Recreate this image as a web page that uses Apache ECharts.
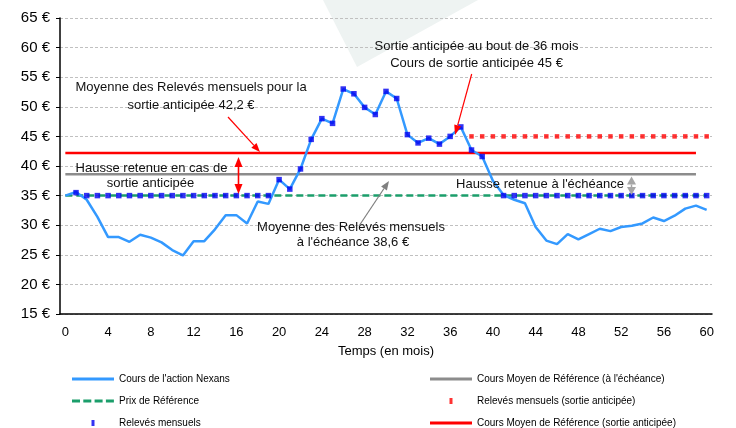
<!DOCTYPE html>
<html><head><meta charset="utf-8">
<script src="https://cdn.jsdelivr.net/npm/echarts@6/dist/echarts.min.js"></script>
<style>html,body{margin:0;padding:0;background:#fff}#c{width:736px;height:428px}</style>
</head><body><div id="c"></div>
<script>
// ---- data ----
const months = [...Array(61).keys()].map(String);
const yTicks = [15,20,25,30,35,40,45,50,55,60,65];
const coursNexans = [35.0,35.6,34.3,31.4,28.0,28.0,27.2,28.4,27.9,27.1,
  25.8,24.9,27.3,27.3,29.3,31.7,31.7,30.3,34.0,33.6,
  37.7,36.1,39.5,44.5,48.0,47.2,53.0,52.2,49.9,48.7,
  52.6,51.4,45.3,43.9,44.7,43.7,45.0,46.6,42.7,41.6,
  37.5,35.1,34.3,33.7,29.7,27.4,26.8,28.5,27.6,28.5,
  29.4,29.0,29.7,29.9,30.3,31.3,30.7,31.6,32.8,33.3,
  32.6];
const relevesMensuels = [null,35.5,35,35,35,35,35,35,35,35,
  35,35,35,35,35,35,35,35,35,35,
  37.7,36.1,39.5,44.5,48.0,47.2,53.0,52.2,49.9,48.7,
  52.6,51.4,45.3,43.9,44.7,43.7,45.0,46.6,42.7,41.6,
  null,35,35,35,35,35,35,35,35,35,
  35,35,35,35,35,35,35,35,35,35,
  35];
const relevesSortie = [null,null,null,null,null,null,null,null,null,null,
  null,null,null,null,null,null,null,null,null,null,
  null,null,null,null,null,null,null,null,null,null,
  null,null,null,null,null,null,null,null,45,45,
  45,45,45,45,45,45,45,45,45,45,
  45,45,45,45,45,45,45,45,45,45,
  45];
const prixReference = [[0,35],[60,35]];
const coursMoyenEcheance = [[0,38.6],[59,38.6]];
const coursMoyenSortie = [[0,42.2],[59,42.2]];

const FONT = '"Liberation Sans", Arial, sans-serif';
const N_COURS = "Cours de l'action Nexans";
const N_PRIX = 'Prix de Référence';
const N_REL = 'Relevés mensuels';
const N_ECH = "Cours Moyen de Référence (à l'échéance)";
const N_RELS = 'Relevés mensuels (sortie anticipée)';
const N_SORT = 'Cours Moyen de Référence (sortie anticipée)';

const C0 = 'M0,0h0.001v0.001h-0.001z', C1 = 'M41.999,9.999h0.001v0.001h-0.001z';
const markerIcon = 'path://' + C0 + 'M19.5,2h3v6h-3z' + C1;
const solidIcon = 'path://' + C0 + 'M0,3.6h42v2.8h-42z' + C1;
const dashIcon = 'path://' + C0 + 'M0,3.6h8v2.8h-8zM11.3,3.6h8v2.8h-8zM22.6,3.6h8v2.8h-8zM33.9,3.6h8v2.8h-8z' + C1;

function arrow(x1,y1,x2,y2,color,o){
  o = Object.assign({w:1.2,hl:9,hw:7,start:false,end:true},o||{});
  const dx=x2-x1, dy=y2-y1, L=Math.hypot(dx,dy), ux=dx/L, uy=dy/L, px=-uy, py=ux;
  const els=[]; let sx=x1, sy=y1, ex=x2, ey=y2;
  if(o.end){ ex=x2-ux*o.hl; ey=y2-uy*o.hl;
    els.push({type:'polygon', z:50, shape:{points:[[x2,y2],[ex+px*o.hw/2,ey+py*o.hw/2],[ex-px*o.hw/2,ey-py*o.hw/2]]}, style:{fill:color}}); }
  if(o.start){ sx=x1+ux*o.hl; sy=y1+uy*o.hl;
    els.push({type:'polygon', z:50, shape:{points:[[x1,y1],[sx+px*o.hw/2,sy+py*o.hw/2],[sx-px*o.hw/2,sy-py*o.hw/2]]}, style:{fill:color}}); }
  els.push({type:'line', z:50, shape:{x1:sx,y1:sy,x2:ex,y2:ey}, style:{stroke:color, lineWidth:o.w}});
  return els;
}
function label(text,x,y){
  return {type:'text', z:50, style:{text:text, x:x, y:y, align:'center', verticalAlign:'middle', textAlign:'center', textVerticalAlign:'middle', font:'13px '+FONT, fill:'#111'}};
}

const graphics = [
  {type:'polygon', z:-10, shape:{points:[[323,0],[357,67],[478,0]]}, style:{fill:'#eef3f2'}},
  label('Moyenne des Relevés mensuels pour la',191,87),
  label('sortie anticipée 42,2 €',191,105),
  label('Hausse retenue en cas de',151.5,168),
  label('sortie anticipée',150.5,183.5),
  label('Moyenne des Relevés mensuels',351,227),
  label("à l'échéance 38,6 €",353,242),
  label('Sortie anticipée au bout de 36 mois',476.5,46),
  label('Cours de sortie anticipée 45 €',476.5,63.5),
  label("Hausse retenue à l'échéance",540,184),
  ...arrow(228,117,260,152,'#ff0000',{w:1.2,hl:9,hw:7}),
  ...arrow(238.5,157,238.5,194,'#ff0000',{w:1.6,hl:10,hw:8,start:true}),
  ...arrow(359,226,389,181,'#808080',{w:1.2,hl:9,hw:7}),
  ...arrow(471.7,74,455,135,'#ff0000',{w:1.2,hl:10,hw:7}),
  ...arrow(631.5,176.5,631.5,195,'#a6a6a6',{w:1.5,hl:8,hw:9,start:true})
];

const legendCommon = {top:374, orient:'vertical', padding:0, itemWidth:42, itemHeight:10, itemGap:12,
  selectedMode:false, itemStyle:{borderWidth:0},
  textStyle:{fontSize:10, color:'#000', fontFamily:FONT, lineHeight:10}};

const chart = echarts.init(document.getElementById('c'), null, {renderer:'canvas'});
chart.setOption({
  animation:false,
  backgroundColor:'#ffffff',
  textStyle:{fontFamily:FONT},
  grid:{left:60, right:24, top:18, bottom:114},
  xAxis:{
    type:'category', data:months, boundaryGap:true,
    name:'Temps (en mois)', nameLocation:'middle', nameGap:31,
    nameTextStyle:{fontSize:13, color:'#000', fontFamily:FONT},
    axisLine:{lineStyle:{color:'#000', width:1.5}},
    axisTick:{interval:3, length:4, lineStyle:{color:'#000'}},
    axisLabel:{interval:3, fontSize:13, color:'#000', margin:12, fontFamily:FONT},
    splitLine:{show:false}
  },
  yAxis:{
    type:'value', min:yTicks[0], max:yTicks[yTicks.length-1], interval:5,
    axisLine:{show:true, lineStyle:{color:'#000', width:1.5}},
    axisTick:{show:true, length:4, lineStyle:{color:'#000'}},
    axisLabel:{formatter:'{value} €', fontSize:15, color:'#000', margin:10, fontFamily:FONT},
    splitLine:{show:true, lineStyle:{color:'#c0c0c0', type:[3,2], width:1}}
  },
  legend:[
    Object.assign({left:72, data:[{name:N_COURS, icon:solidIcon},{name:N_PRIX, icon:dashIcon},{name:N_REL, icon:markerIcon}]}, legendCommon),
    Object.assign({left:430, data:[{name:N_ECH, icon:solidIcon},{name:N_RELS, icon:markerIcon},{name:N_SORT, icon:solidIcon}]}, legendCommon)
  ],
  graphic:graphics,
  series:[
    {name:N_COURS, type:'line', data:coursNexans, symbol:'none', z:3,
     lineStyle:{color:'#3399ff', width:2.5}, itemStyle:{color:'#3399ff'}},
    {name:N_PRIX, type:'line', data:prixReference, symbol:'none', z:2,
     lineStyle:{color:'#1b9e6b', width:2.5, type:[7,4]}, itemStyle:{color:'#1b9e6b'}},
    {name:N_ECH, type:'line', data:coursMoyenEcheance, symbol:'none', z:2,
     lineStyle:{color:'#8c8c8c', width:2.5}, itemStyle:{color:'#8c8c8c'}},
    {name:N_SORT, type:'line', data:coursMoyenSortie, symbol:'none', z:2,
     lineStyle:{color:'#ff0000', width:2.5}, itemStyle:{color:'#ff0000'}},
    {name:N_RELS, type:'scatter', data:relevesSortie, symbol:'rect', symbolSize:[4.5,4.5], z:4,
     itemStyle:{color:'#ff0000'}},
    {name:N_REL, type:'scatter', data:relevesMensuels, symbol:'rect', symbolSize:[5.5,5.5], z:5,
     itemStyle:{color:'#0000f0'}}
  ]
});
</script>
</body></html>
